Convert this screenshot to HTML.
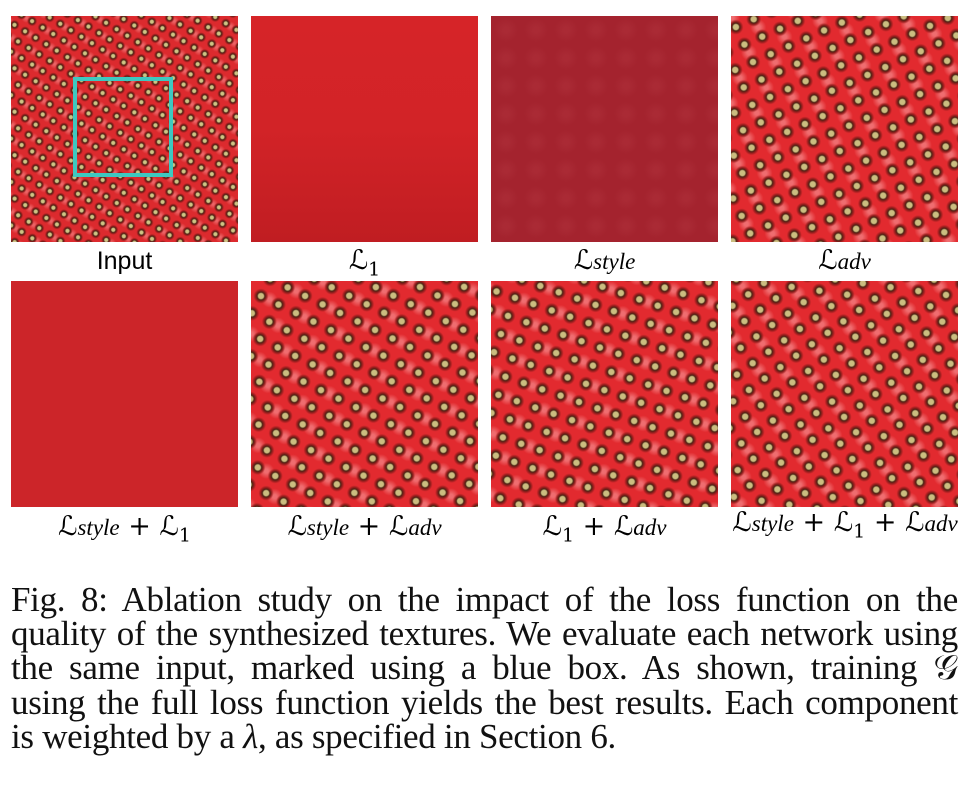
<!DOCTYPE html>
<html><head><meta charset="utf-8"><style>
body{margin:0;width:975px;height:792px;background:#fff;position:relative;overflow:hidden;font-family:"Liberation Serif",serif}
.tile{position:absolute;width:227px;height:226px;overflow:hidden}
.pat{position:absolute;left:-80px;top:-80px;width:390px;height:390px}
.p1{background-color:#dc2a2e;background-image:radial-gradient(circle,#cfc384 0 1.6px,#4a2214 2.6px,#8a1c1a 3.6px,transparent 5px),radial-gradient(circle,#cfc384 0 1.6px,#4a2214 2.6px,#8a1c1a 3.6px,transparent 5px),radial-gradient(circle,rgba(255,170,170,.45) 0 1px,transparent 5px);background-size:18px 17px,18px 17px,18px 17px;background-position:0 0,9px 8.5px,4px 4px;transform:rotate(-12deg)}
.p2{background-color:#e22a2f;background-image:radial-gradient(circle,#cbbd80 0 2.6px,#4a2414 3.8px,#8a1c1a 5.2px,transparent 7.5px),radial-gradient(circle,#cbbd80 0 2.6px,#4a2414 3.8px,#8a1c1a 5.2px,transparent 7.5px),radial-gradient(circle,rgba(255,190,190,.45) 0 2px,transparent 8px);background-size:28px 27px,28px 27px,28px 27px;background-position:0 0,14px 13.5px,7px 6px}
.lab{position:absolute;width:227px;text-align:center;font-family:"DejaVu Serif","Liberation Serif",serif;font-size:27px;color:#000}
.lab i{font-size:23px;font-family:"Liberation Serif",serif}
.lab sub{font-size:19px}
.cap{position:absolute;left:11px;width:947px;font-size:35px;letter-spacing:-0.3px;line-height:34.2px;top:583px;color:#111}
.cap div{text-align:justify;text-align-last:justify;white-space:nowrap}
.cap div.last{text-align-last:left}
</style></head><body>
<div class="tile" style="left:11px;top:16px"><div class="pat p1"></div>
<div style="position:absolute;left:62px;top:61px;width:92px;height:92px;border:4px solid #3ec8c0"></div></div>
<div class="tile" style="left:251px;top:16px;background:linear-gradient(#d62428,#d22327 50%,#c01d22)"></div>
<div class="tile" style="left:491px;top:16px;background:#a4232e;background-image:radial-gradient(circle,rgba(180,55,65,.35) 0 3px,transparent 12px);background-size:30px 28px"></div>
<div class="tile" style="left:731px;top:16px"><div class="pat p2" style="transform:rotate(20deg)"></div></div>
<div class="tile" style="left:11px;top:281px;background:#cc2529"></div>
<div class="tile" style="left:251px;top:281px"><div class="pat p2" style="transform:rotate(-18deg)"></div></div>
<div class="tile" style="left:491px;top:281px"><div class="pat p2" style="transform:rotate(-25deg)"></div></div>
<div class="tile" style="left:731px;top:281px"><div class="pat p2" style="transform:rotate(8deg)"></div></div>

<div class="lab" style="left:11px;top:247px;font-family:'Liberation Sans',sans-serif;font-size:25px">Input</div>
<div class="lab" style="left:251px;top:245px">ℒ<sub>1</sub></div>
<div class="lab" style="left:491px;top:245px">ℒ<i>style</i></div>
<div class="lab" style="left:731px;top:245px">ℒ<i>adv</i></div>
<div class="lab" style="left:11px;top:511px">ℒ<i>style</i> + ℒ<sub>1</sub></div>
<div class="lab" style="left:251px;top:511px">ℒ<i>style</i> + ℒ<i>adv</i></div>
<div class="lab" style="left:491px;top:511px">ℒ<sub>1</sub> + ℒ<i>adv</i></div>
<div class="lab" style="left:720px;top:507px;width:250px">ℒ<i>style</i> + ℒ<sub>1</sub> + ℒ<i>adv</i></div>

<div class="cap">
<div>Fig. 8: Ablation study on the impact of the loss function on the</div>
<div>quality of the synthesized textures. We evaluate each network using</div>
<div>the same input, marked using a blue box. As shown, training 𝒢</div>
<div>using the full loss function yields the best results. Each component</div>
<div class="last">is weighted by a <i>λ</i>, as specified in Section 6.</div>
</div>
</body></html>
